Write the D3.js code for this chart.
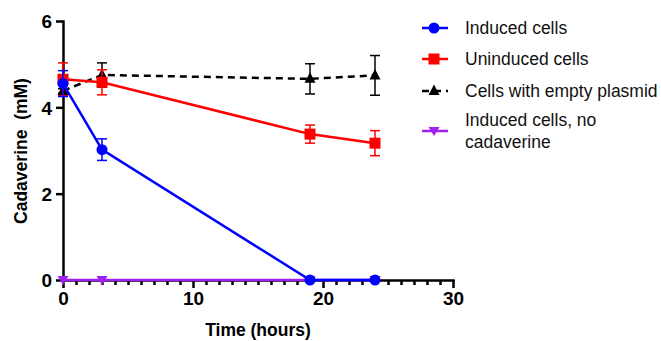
<!DOCTYPE html>
<html lang="en">
<head>
  <meta charset="UTF-8">
  <title>Cadaverine over time</title>
  <script src="https://d3js.org/d3.v7.min.js"></script>
  <style>
    body { margin: 0; background: #fff; }
    svg { display: block; }
    svg text { font-family: "Liberation Sans", Arial, sans-serif; }
    .axis path, .axis line { stroke: #000; stroke-width: 2.5px; }
    .axis text { font-weight: bold; font-size: 19px; fill: #000; }
    .title { font-weight: bold; font-size: 17.5px; }
    .legend text { font-size: 17.5px; fill: #111; }
  </style>
</head>
<body>
  <div id="chart"></div>
  <script>
    const width = 661, height = 341;

    // time points in hours
    const times = [0, 3, 19, 24];

    // cadaverine mean (mM) and error per series
    const inducedMean = [4.55, 3.02, 0, 0];
    const inducedErr = [0.3, 0.25, 0, 0];
    const uninducedMean = [4.65, 4.58, 3.38, 3.17];
    const uninducedErr = [0.38, 0.29, 0.21, 0.29];
    const emptyMean = [4.38, 4.75, 4.66, 4.74];
    const emptyErr = [0.05, 0.28, 0.35, 0.46];
    const noCadMean = [0, 0, 0, 0];
    const noCadErr = [0, 0, 0, 0];

    const legendLabels = ["Induced cells", "Uninduced cells", "Cells with empty plasmid", ["Induced cells, no", "cadaverine"]];

    const xTicks = [0, 10, 20, 30];
    const yTicks = [0, 2, 4, 6];

    const series = [
      { name: "noCad", mean: noCadMean, err: noCadErr, color: "#a020f0", sym: "triDown", dash: null },
      { name: "empty", mean: emptyMean, err: emptyErr, color: "#000", sym: "tri", dash: "7,5" },
      { name: "uninduced", mean: uninducedMean, err: uninducedErr, color: "#ff0000", sym: "square", dash: null },
      { name: "induced", mean: inducedMean, err: inducedErr, color: "#0000ff", sym: "circle", dash: null }
    ];

    const x = d3.scaleLinear().domain([0, 30]).range([63, 453]);
    const y = d3.scaleLinear().domain([0, 6]).range([280, 21]);

    const svg = d3.select("#chart").append("svg")
      .attr("width", width)
      .attr("height", height);

    // axes
    const xAxis = svg.append("g")
      .attr("class", "axis")
      .attr("transform", `translate(0,${y(0)})`)
      .call(d3.axisBottom(x).tickValues(d3.range(0, 31, 1)).tickSize(5).tickSizeOuter(0).tickFormat(""));
    xAxis.selectAll(".tick line").attr("stroke-width", 2);
    xAxis.selectAll(".tick")
      .filter(d => xTicks.includes(d))
      .select("line").attr("y2", 8).attr("stroke-width", 2.5);
    xAxis.selectAll(".tick")
      .filter(d => xTicks.includes(d))
      .select("text").text(d => d).attr("y", 12);

    const yAxis = svg.append("g")
      .attr("class", "axis")
      .attr("transform", `translate(${x(0)},0)`)
      .call(d3.axisLeft(y).tickValues(yTicks).tickSize(7).tickSizeOuter(0).tickFormat(d3.format("d")));
    yAxis.selectAll("text").attr("x", -11).attr("dy", "0.36em");
    xAxis.select(".domain").attr("stroke-linecap", "square");
    yAxis.select(".domain").attr("stroke-linecap", "square");

    svg.append("text")
      .attr("class", "title")
      .attr("x", 258)
      .attr("y", 336)
      .attr("text-anchor", "middle")
      .text("Time (hours)");

    svg.append("text")
      .attr("class", "title")
      .attr("transform", `translate(27,151) rotate(-90)`)
      .attr("text-anchor", "middle")
      .attr("xml:space", "preserve")
      .style("white-space", "pre")
      .text("Cadaverine  (mM)");

    function marker(g, sym, color, cx, cy) {
      if (sym === "circle") {
        g.append("circle").attr("cx", cx).attr("cy", cy).attr("r", 5.5).attr("fill", color);
      } else if (sym === "square") {
        g.append("rect").attr("x", cx - 5.5).attr("y", cy - 5.5).attr("width", 11).attr("height", 11).attr("fill", color);
      } else if (sym === "tri") {
        g.append("path").attr("d", `M${cx},${cy - 6.5}L${cx + 5.5},${cy + 4}L${cx - 5.5},${cy + 4}Z`).attr("fill", color);
      } else {
        g.append("path").attr("d", `M${cx - 5.5},${cy - 4}L${cx + 5.5},${cy - 4}L${cx},${cy + 5}Z`).attr("fill", color);
      }
    }

    const line = d3.line().x(d => x(d[0])).y(d => y(d[1]));

    series.forEach(s => {
      const g = svg.append("g");
      const pts = times.map((t, i) => [t, s.mean[i], s.err[i]]);
      g.append("path")
        .datum(pts)
        .attr("d", line)
        .attr("fill", "none")
        .attr("stroke", s.color)
        .attr("stroke-width", 2.5)
        .attr("stroke-dasharray", s.dash);
      pts.filter(p => p[2] > 0).forEach(p => {
        const e = g.append("g").attr("stroke", s.color).attr("stroke-width", 1.5);
        e.append("line").attr("x1", x(p[0])).attr("x2", x(p[0])).attr("y1", y(p[1] - p[2])).attr("y2", y(p[1] + p[2]));
        [p[1] - p[2], p[1] + p[2]].forEach(v => {
          e.append("line").attr("x1", x(p[0]) - 5).attr("x2", x(p[0]) + 5).attr("y1", y(v)).attr("y2", y(v));
        });
      });
      pts.forEach(p => marker(g, s.sym, s.color, x(p[0]), y(p[1])));
    });

    // legend
    const legendOrder = [
      { color: "#0000ff", sym: "circle", dash: null, label: legendLabels[0], y: 28 },
      { color: "#ff0000", sym: "square", dash: null, label: legendLabels[1], y: 59 },
      { color: "#000", sym: "tri", dash: "7,5", label: legendLabels[2], y: 91 },
      { color: "#a020f0", sym: "triDown", dash: null, label: legendLabels[3], y: 131 }
    ];
    const legend = svg.append("g").attr("class", "legend");
    legendOrder.forEach(l => {
      const g = legend.append("g");
      g.append("line")
        .attr("x1", 422).attr("x2", 448).attr("y1", l.y).attr("y2", l.y)
        .attr("stroke", l.color).attr("stroke-width", 2.5)
        .attr("stroke-dasharray", l.dash);
      marker(g, l.sym, l.color, 434, l.y);
      const lines = Array.isArray(l.label) ? l.label : [l.label];
      const t = g.append("text").attr("x", 465).attr("y", l.y - (lines.length - 1) * 11);
      lines.forEach((s, i) => {
        t.append("tspan").attr("x", 465).attr("dy", i === 0 ? "0.36em" : 22).text(s);
      });
    });
  </script>
</body>
</html>
